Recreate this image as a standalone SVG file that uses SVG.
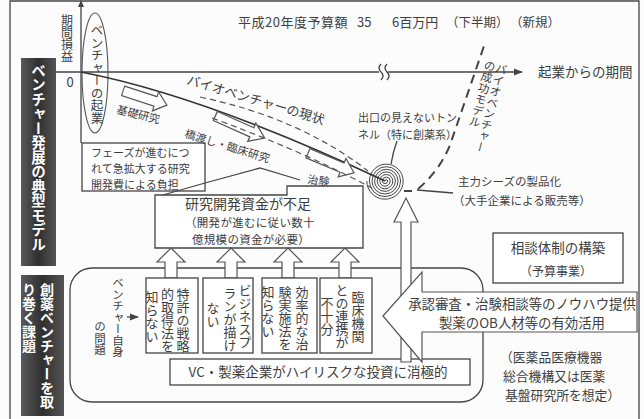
<svg xmlns="http://www.w3.org/2000/svg" width="644" height="419" viewBox="0 0 644 419">
<defs>
<style>
text{font-family:"Noto Sans CJK JP","Noto Sans CJK SC",sans-serif;fill:#3e3e3e}
.v{writing-mode:vertical-rl}
.ln{fill:none;stroke:#444;stroke-width:1.3}
.box{fill:#fff;stroke:#444;stroke-width:1.3}
.dash{fill:none;stroke:#555;stroke-width:1.2;stroke-dasharray:6 4}
.lbl{fill:#fff;font-weight:bold}
.ar{fill:#fff;stroke:#555;stroke-width:1.2}
</style>
<linearGradient id="dk" x1="0" y1="0" x2="1" y2="0">
<stop offset="0" stop-color="#5a5a5a"/><stop offset="0.5" stop-color="#2f2f2f"/><stop offset="1" stop-color="#555"/>
</linearGradient>
<marker id="ah" viewBox="0 0 10 10" refX="9" refY="5" markerWidth="7" markerHeight="7" orient="auto"><path d="M0,1 L10,5 L0,9 Z" fill="#444"/></marker>
<polygon id="blk" points="-25,-5 12,-5 12,-10 25,0 12,10 12,5 -25,5"/>
</defs>
<rect width="644" height="419" fill="#fcfcfc"/>
<path class="ln" d="M10,419 V1 H639 V419"/>

<g id="label-model">
<rect x="21" y="58" width="35" height="208" fill="url(#dk)"/>
<text class="v lbl" x="38.5" y="157" font-size="14.5" text-anchor="middle">ベンチャー発展の典型モデル</text>
</g>
<g id="label-issues">
<rect x="21" y="275" width="43" height="141" fill="url(#dk)"/>
<text class="v lbl" x="47" y="283" font-size="14">創薬ベンチャーを取</text>
<text class="v lbl" x="29" y="283" font-size="14">り巻く課題</text>
</g>

<g id="budget">
<text y="27" font-size="13"><tspan x="238" letter-spacing="0.5">平成20年度予算額</tspan><tspan x="357">35</tspan><tspan x="392">6百万円</tspan><tspan x="446" font-size="12.5">（下半期）</tspan><tspan x="510" font-size="12.5">（新規）</tspan></text>
</g>

<g id="axes">
<path class="ln" d="M81,143 V5"/>
<path d="M81,0 L78,7 L84,7 Z" fill="#444"/>
<path class="ln" d="M55,72 H522" marker-end="url(#ah)"/>
<rect x="379" y="66" width="9" height="12" fill="#fcfcfc"/>
<path class="ln" d="M381,64 q-4,4 0,8 q4,4 0,8 M387,64 q-4,4 0,8 q4,4 0,8" stroke-width="1"/>
<text class="v" x="67" y="14" font-size="12">期間損益</text>
<text x="70" y="87" font-size="13" text-anchor="middle">0</text>
<text x="538" y="77" font-size="13.5">起業からの期間</text>
</g>

<g id="startup">
<ellipse cx="95" cy="73" rx="13" ry="60" fill="none" stroke="#555" stroke-width="1.1"/>
<text class="v" x="97" y="24" font-size="12.5">ベンチャーの起業</text>
</g>

<g id="phase-box">
<rect class="box" x="82" y="143" width="123" height="48"/>
<text font-size="11"><tspan x="91" y="156.5">フェーズが進むにつ</tspan><tspan x="91" y="172.5">れて急拡大する研究</tspan><tspan x="91" y="188.5">開発費による負担</tspan></text>
</g>

<g id="fund-box">
<path class="ln" d="M163,195 L205,183 L260,168 L300,180"/>
<path class="box" d="M155,248 V195 H287 V186 H363 V248 Z"/>
<text x="185" y="209" font-size="14">研究開発資金が不足</text>
<text font-size="11.5" letter-spacing="0.3"><tspan x="185" y="227">（開発が進むに従い数十</tspan><tspan x="192" y="244">億規模の資金が必要）</tspan></text>
</g>

<g id="connectors">
<path d="M81,72 Q205,96 385,181" fill="none" stroke="#333" stroke-width="1.6"/>
<use href="#blk" class="ar" transform="translate(145,98) rotate(18) scale(0.92,1)"/>
<use href="#blk" class="ar" transform="translate(240,127) rotate(24) scale(1.08,1)"/>
<use href="#blk" class="ar" transform="translate(331,163) rotate(23)"/>
<path class="dash" d="M200,97 Q300,118 368,171"/>
<path class="dash" d="M212,118 Q300,150 372,188"/>
<path d="M404,191 H412 M418,189 Q440,170 450,145 L484,46" fill="none" stroke="#444" stroke-width="2" stroke-dasharray="9 6"/>
<path class="ln" d="M397,141 Q393,152 391,164" stroke-width="1"/>
<path class="ln" d="M417,190 L453,193" stroke-width="1"/>
<path class="ln" d="M127,317 H138" stroke-width="1" marker-end="url(#ah)"/>
</g>

<g id="curve-labels">
<text transform="translate(186,84) rotate(16.5)" font-size="13">バイオベンチャーの現状</text>
<text transform="translate(116,113) rotate(14)" font-size="11">基礎研究</text>
<text transform="translate(184,137) rotate(17)" font-size="11">橋渡し・臨床研究</text>
<text transform="translate(307,183) rotate(8)" font-size="11">治験</text>
</g>

<g id="spiral">
<path d="M385,181 a1.3,1.3 0 0 1 2.6,0 a2.6,2.6 0 0 1 -5.2,0 a3.9,3.9 0 0 1 7.8,0 a5.2,5.2 0 0 1 -10.4,0 a6.5,6.5 0 0 1 13,0 a7.8,7.8 0 0 1 -15.6,0 a9.1,9.1 0 0 1 18.2,0 a10.4,10.4 0 0 1 -20.8,0 a11.7,11.7 0 0 1 23.4,0 a13,13 0 0 1 -26,0 a14.3,14.3 0 0 1 28.6,0 a15.6,15.6 0 0 1 -31.2,0 a16.9,16.9 0 0 1 33.8,0 a18.2,18.2 0 0 1 -36.4,0" fill="none" stroke="#333" stroke-width="0.9"/>
</g>

<g id="tunnel">
<text font-size="11"><tspan x="358" y="122">出口の見えないトン</tspan><tspan x="358" y="139">ネル（特に創薬系）</tspan></text>
</g>

<g id="success-model">
<g transform="translate(497,62) rotate(15)">
<text class="v" x="6" y="0" font-size="11.5">バイオベンチャー</text>
<text class="v" x="-6" y="0" font-size="11.5">の成功モデル</text>
</g>
</g>

<g id="product">
<text font-size="11.5"><tspan x="458" y="186">主力シーズの製品化</tspan><tspan x="453" y="205">（大手企業による販売等）</tspan></text>
</g>

<g id="issues-area">
<rect class="ln" x="70" y="268" width="413" height="134" rx="22"/>
<text class="v" x="118" y="277" font-size="11.5">ベンチャー自身</text>
<text class="v" x="100" y="321" font-size="11.5">の問題</text>
</g>

<g id="up-arrows">
<polygon class="ar" points="171,248 185,262 177,262 177,278 165,278 165,262 157,262"/>
<polygon class="ar" points="231,248 245,262 237,262 237,278 225,278 225,262 217,262"/>
<polygon class="ar" points="288,248 302,262 294,262 294,278 282,278 282,262 274,262"/>
<polygon class="ar" points="345,248 359,262 351,262 351,278 339,278 339,262 331,262"/>
</g>

<g id="issue-patent">
<rect class="box" x="146" y="278" width="52" height="75"/>
<text class="v" x="183" y="288" font-size="13">特許の戦略</text>
<text class="v" x="167.5" y="288" font-size="13">的取得法を</text>
<text class="v" x="152" y="291" font-size="13">知らない</text>
</g>
<g id="issue-plan">
<rect class="box" x="203" y="278" width="50" height="75"/>
<text class="v" x="245" y="284" font-size="13">ビジネスプ</text>
<text class="v" x="230" y="287" font-size="13">ランが描け</text>
<text class="v" x="213" y="302" font-size="13">ない</text>
</g>
<g id="issue-trial">
<rect class="box" x="262" y="278" width="55" height="75"/>
<text class="v" x="302" y="286" font-size="13">効率的な治</text>
<text class="v" x="285" y="286" font-size="13">験実施法を</text>
<text class="v" x="268" y="286" font-size="13">知らない</text>
</g>
<g id="issue-clinic">
<rect class="box" x="320" y="278" width="52" height="75"/>
<text class="v" x="358" y="291" font-size="13">臨床機関</text>
<text class="v" x="342" y="284" font-size="13">との連携が</text>
<text class="v" x="327" y="297" font-size="13">不十分</text>
</g>

<g id="vc-box">
<rect class="box" x="170" y="359" width="300" height="26"/>
<text x="318" y="377" font-size="13.5" text-anchor="middle">VC・製薬企業がハイリスクな投資に消極的</text>
</g>

<g id="spiral-arrow">
<polygon class="ar" points="406,198 418,222 411,222 411,362 401,362 401,222 394,222"/>
</g>

<g id="consult-box">
<rect class="box" x="493" y="233" width="130" height="50"/>
<text x="558" y="253" font-size="13.5" text-anchor="middle">相談体制の構築</text>
<text x="556" y="276" font-size="12" text-anchor="middle">（予算事業）</text>
</g>

<g id="support-arrow">
<polygon class="ar" points="383,316 422,272 422,292 637,292 637,332 422,332 422,362"/>
<text font-size="13.4" text-anchor="middle"><tspan x="522" y="308.5">承認審査・治験相談等のノウハウ提供</tspan><tspan x="522" y="328">製薬のOB人材等の有効活用</tspan></text>
</g>

<g id="agency">
<text font-size="12.8"><tspan x="500" y="362">（医薬品医療機器</tspan><tspan x="503" y="381">総合機構又は医薬</tspan><tspan x="505" y="400">基盤研究所を想定）</tspan></text>
</g>
</svg>
